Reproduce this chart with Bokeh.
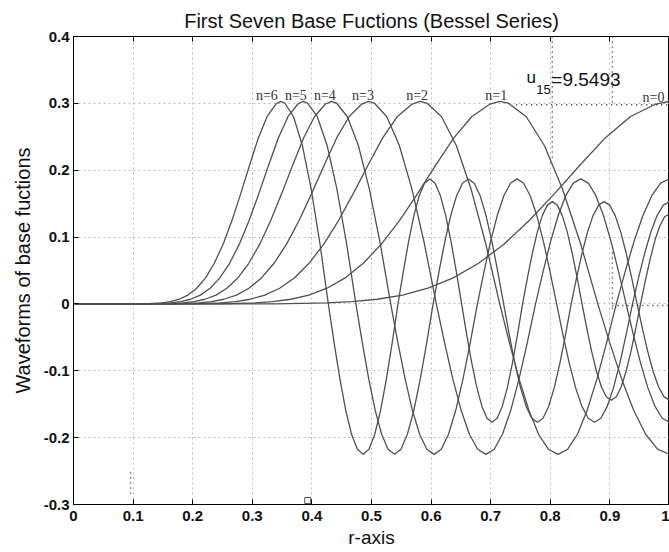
from bokeh.plotting import figure
from bokeh.models import Range1d, FixedTicker, LinearAxis
from bokeh.core.properties import value
from bokeh.embed import file_html
from bokeh.resources import INLINE

# ---- tick values / labels ----
x_ticks = [0, 0.1, 0.2, 0.3, 0.4, 0.5, 0.6, 0.7, 0.8, 0.9, 1]
x_tick_labels = ["0", "0.1", "0.2", "0.3", "0.4", "0.5", "0.6", "0.7", "0.8", "0.9", "1"]
y_ticks = [-0.3, -0.2, -0.1, 0, 0.1, 0.2, 0.3, 0.4]
y_tick_labels = ["-0.3", "-0.2", "-0.1", "0", "0.1", "0.2", "0.3", "0.4"]

# ---- curves (r, value) ----
r_n0 = [0.0, 0.33985, 0.42481, 0.46729, 0.50977, 0.55225, 0.59473, 0.63722, 0.67970,
        0.72218, 0.76466, 0.80714, 0.84962, 0.89210, 0.93458, 0.97706, 1.0]
y_n0 = [0.0, 0.0001, 0.0015, 0.0033, 0.0070, 0.0132, 0.0235, 0.0389, 0.0608,
        0.0894, 0.1247, 0.1650, 0.2075, 0.2483, 0.2804, 0.2990, 0.3029]

r_n1 = [0.0, 0.24310, 0.30387, 0.33426, 0.36464, 0.39503, 0.42542, 0.45581, 0.48619,
        0.51658, 0.54697, 0.57735, 0.60774, 0.63813, 0.66851, 0.69890, 0.71531, 0.72929,
        0.75968, 0.79006, 0.82045, 0.85084, 0.87973,
        0.89978, 0.91982, 0.93987, 0.95991, 0.97996, 1.0]
y_n1 = [0.0, 0.0001, 0.0015, 0.0033, 0.0070, 0.0132, 0.0235, 0.0389, 0.0608,
        0.0894, 0.1247, 0.1650, 0.2075, 0.2483, 0.2804, 0.2990, 0.3029, 0.3005,
        0.2800, 0.2370, 0.1720, 0.0900, 0.0,
        -0.0582, -0.1125, -0.1591, -0.1949, -0.2173, -0.225]

r_n2 = [0.0, 0.19763, 0.24703, 0.27173, 0.29644, 0.32114, 0.34584, 0.37055, 0.39525,
        0.41995, 0.44466, 0.46936, 0.49406, 0.51877, 0.54347, 0.56817, 0.58151, 0.59288,
        0.61758, 0.64228, 0.66699, 0.69169, 0.71518,
        0.73148, 0.74777, 0.76407, 0.78036, 0.79666, 0.81296, 0.82925, 0.84555,
        0.86184, 0.87814, 0.89444, 0.91073,
        0.92561, 0.94049, 0.95536, 0.97024, 0.98512, 1.0]
y_n2 = [0.0, 0.0001, 0.0015, 0.0033, 0.0070, 0.0132, 0.0235, 0.0389, 0.0608,
        0.0894, 0.1247, 0.1650, 0.2075, 0.2483, 0.2804, 0.2990, 0.3029, 0.3005,
        0.2800, 0.2370, 0.1720, 0.0900, 0.0,
        -0.0582, -0.1125, -0.1591, -0.1949, -0.2173, -0.225, -0.2173, -0.1949,
        -0.1591, -0.1125, -0.0582, 0.0,
        0.0484, 0.0935, 0.1322, 0.1619, 0.1806, 0.187]

r_n3 = [0.0, 0.16822, 0.21028, 0.23130, 0.25233, 0.27336, 0.29439, 0.31541, 0.33644,
        0.35747, 0.37850, 0.39952, 0.42055, 0.44158, 0.46261, 0.48363, 0.49499, 0.50466,
        0.52569, 0.54672, 0.56774, 0.58877, 0.60877,
        0.62264, 0.63651, 0.65038, 0.66425, 0.67813, 0.69200, 0.70587, 0.71974,
        0.73361, 0.74748, 0.76135, 0.77522,
        0.78788, 0.80055, 0.81321, 0.82588, 0.83854, 0.85120, 0.86387, 0.87653,
        0.88920, 0.90186, 0.91452, 0.92719,
        0.93932, 0.95146, 0.96359, 0.97573, 0.98786, 1.0]
y_n3 = [0.0, 0.0001, 0.0015, 0.0033, 0.0070, 0.0132, 0.0235, 0.0389, 0.0608,
        0.0894, 0.1247, 0.1650, 0.2075, 0.2483, 0.2804, 0.2990, 0.3029, 0.3005,
        0.2800, 0.2370, 0.1720, 0.0900, 0.0,
        -0.0582, -0.1125, -0.1591, -0.1949, -0.2173, -0.225, -0.2173, -0.1949,
        -0.1591, -0.1125, -0.0582, 0.0,
        0.0484, 0.0935, 0.1322, 0.1619, 0.1806, 0.187, 0.1806, 0.1619,
        0.1322, 0.0935, 0.0484, 0.0,
        -0.0458, -0.0885, -0.1252, -0.1533, -0.1710, -0.177]

r_n4 = [0.0, 0.14707, 0.18383, 0.20222, 0.22060, 0.23898, 0.25737, 0.27575, 0.29413,
        0.31252, 0.33090, 0.34928, 0.36767, 0.38605, 0.40443, 0.42282, 0.43274, 0.44120,
        0.45958, 0.47797, 0.49635, 0.51473, 0.53222,
        0.54435, 0.55647, 0.56860, 0.58073, 0.59286, 0.60498, 0.61711, 0.62924,
        0.64136, 0.65349, 0.66562, 0.67774,
        0.68881, 0.69988, 0.71095, 0.72202, 0.73310, 0.74417, 0.75524, 0.76631,
        0.77738, 0.78845, 0.79952, 0.81059,
        0.82120, 0.83181, 0.84242, 0.85303, 0.86364, 0.87424, 0.88485, 0.89546,
        0.90607, 0.91668, 0.92729, 0.93790,
        0.94825, 0.95860, 0.96895, 0.97930, 0.98965, 1.0]
y_n4 = [0.0, 0.0001, 0.0015, 0.0033, 0.0070, 0.0132, 0.0235, 0.0389, 0.0608,
        0.0894, 0.1247, 0.1650, 0.2075, 0.2483, 0.2804, 0.2990, 0.3029, 0.3005,
        0.2800, 0.2370, 0.1720, 0.0900, 0.0,
        -0.0582, -0.1125, -0.1591, -0.1949, -0.2173, -0.225, -0.2173, -0.1949,
        -0.1591, -0.1125, -0.0582, 0.0,
        0.0484, 0.0935, 0.1322, 0.1619, 0.1806, 0.187, 0.1806, 0.1619,
        0.1322, 0.0935, 0.0484, 0.0,
        -0.0458, -0.0885, -0.1252, -0.1533, -0.1710, -0.177, -0.1710, -0.1533,
        -0.1252, -0.0885, -0.0458, 0.0,
        0.0396, 0.0765, 0.1082, 0.1325, 0.1478, 0.153]

r_n5 = [0.0, 0.13093, 0.16367, 0.18003, 0.19640, 0.21277, 0.22914, 0.24550, 0.26187,
        0.27824, 0.29460, 0.31097, 0.32734, 0.34370, 0.36007, 0.37644, 0.38528, 0.39280,
        0.40917, 0.42554, 0.44190, 0.45827, 0.47384,
        0.48463, 0.49543, 0.50623, 0.51703, 0.52782, 0.53862, 0.54942, 0.56021,
        0.57101, 0.58181, 0.59261, 0.60340,
        0.61326, 0.62311, 0.63297, 0.64283, 0.65269, 0.66254, 0.67240, 0.68226,
        0.69211, 0.70197, 0.71183, 0.72168,
        0.73112, 0.74057, 0.75001, 0.75946, 0.76890, 0.77835, 0.78779, 0.79724,
        0.80668, 0.81613, 0.82557, 0.83502,
        0.84423, 0.85345, 0.86266, 0.87188, 0.88109, 0.89030, 0.89952, 0.90873,
        0.91795, 0.92716, 0.93638, 0.94559,
        0.95466, 0.96373, 0.97280, 0.98187, 0.99094, 1.0]
y_n5 = [0.0, 0.0001, 0.0015, 0.0033, 0.0070, 0.0132, 0.0235, 0.0389, 0.0608,
        0.0894, 0.1247, 0.1650, 0.2075, 0.2483, 0.2804, 0.2990, 0.3029, 0.3005,
        0.2800, 0.2370, 0.1720, 0.0900, 0.0,
        -0.0582, -0.1125, -0.1591, -0.1949, -0.2173, -0.225, -0.2173, -0.1949,
        -0.1591, -0.1125, -0.0582, 0.0,
        0.0484, 0.0935, 0.1322, 0.1619, 0.1806, 0.187, 0.1806, 0.1619,
        0.1322, 0.0935, 0.0484, 0.0,
        -0.0458, -0.0885, -0.1252, -0.1533, -0.1710, -0.177, -0.1710, -0.1533,
        -0.1252, -0.0885, -0.0458, 0.0,
        0.0396, 0.0765, 0.1082, 0.1325, 0.1478, 0.153, 0.1478, 0.1325,
        0.1082, 0.0765, 0.0396, 0.0,
        -0.0373, -0.0720, -0.1018, -0.1247, -0.1391, -0.144]

r_n6 = [0.0, 0.11815, 0.14768, 0.16245, 0.17722, 0.19199, 0.20676, 0.22153, 0.23630,
        0.25106, 0.26583, 0.28060, 0.29537, 0.31014, 0.32491, 0.33967, 0.34765, 0.35444,
        0.36921, 0.38398, 0.39875, 0.41352, 0.42756,
        0.43730, 0.44705, 0.45679, 0.46653, 0.47627, 0.48601, 0.49576, 0.50550,
        0.51524, 0.52498, 0.53472, 0.54447,
        0.55336, 0.56226, 0.57115, 0.58005, 0.58894, 0.59784, 0.60673, 0.61562,
        0.62452, 0.63341, 0.64231, 0.65120,
        0.65972, 0.66825, 0.67677, 0.68529, 0.69382, 0.70234, 0.71086, 0.71938,
        0.72791, 0.73643, 0.74495, 0.75348,
        0.76178, 0.77010, 0.77841, 0.78673, 0.79504, 0.80336, 0.81167, 0.81998,
        0.82830, 0.83661, 0.84493, 0.85324,
        0.86143, 0.86961, 0.87780, 0.88598, 0.89416, 0.90235, 0.91053, 0.91871,
        0.92690, 0.93508, 0.94326, 0.95145,
        0.95953, 0.96763, 0.97572, 0.98381, 0.99191, 1.0]
y_n6 = [0.0, 0.0001, 0.0015, 0.0033, 0.0070, 0.0132, 0.0235, 0.0389, 0.0608,
        0.0894, 0.1247, 0.1650, 0.2075, 0.2483, 0.2804, 0.2990, 0.3029, 0.3005,
        0.2800, 0.2370, 0.1720, 0.0900, 0.0,
        -0.0582, -0.1125, -0.1591, -0.1949, -0.2173, -0.225, -0.2173, -0.1949,
        -0.1591, -0.1125, -0.0582, 0.0,
        0.0484, 0.0935, 0.1322, 0.1619, 0.1806, 0.187, 0.1806, 0.1619,
        0.1322, 0.0935, 0.0484, 0.0,
        -0.0458, -0.0885, -0.1252, -0.1533, -0.1710, -0.177, -0.1710, -0.1533,
        -0.1252, -0.0885, -0.0458, 0.0,
        0.0396, 0.0765, 0.1082, 0.1325, 0.1478, 0.153, 0.1478, 0.1325,
        0.1082, 0.0765, 0.0396, 0.0,
        -0.0373, -0.0720, -0.1018, -0.1247, -0.1391, -0.144, -0.1391, -0.1247,
        -0.1018, -0.0720, -0.0373, 0.0,
        0.0349, 0.0675, 0.0955, 0.1169, 0.1304, 0.135]

# ---- curve labels ----
label_text = ["n=6", "n=5", "n=4", "n=3", "n=2", "n=1", "n=0"]
label_x = [0.3244, 0.3731, 0.4218, 0.4857, 0.5765, 0.7092, 0.9731]
label_y = [0.3118, 0.3118, 0.3118, 0.3118, 0.3118, 0.3118, 0.3088]

# ---- annotation marks (dotted guide segments seen on the scan) ----
ann_x0 = [0.8034, 0.9042, 0.7429, 0.9042, 0.9042, 0.0958]
ann_y0 = [0.4, 0.4, 0.298, 0.077, -0.0023, -0.252]
ann_x1 = [0.8034, 0.9042, 1.0, 0.9042, 1.0, 0.0958]
ann_y1 = [0.2145, 0.30, 0.298, -0.013, -0.0023, -0.2835]
box_x = [0.393]
box_y = [-0.294]

curves = [(r_n0, y_n0), (r_n1, y_n1), (r_n2, y_n2), (r_n3, y_n3),
          (r_n4, y_n4), (r_n5, y_n5), (r_n6, y_n6)]

p = figure(width=669, height=552, x_range=Range1d(0, 1), y_range=Range1d(-0.3, 0.4),
           output_backend="svg", toolbar_location=None,
           title="First Seven Base Fuctions (Bessel Series)",
           min_border_left=73, min_border_right=0, min_border_top=36, min_border_bottom=48)
p.background_fill_color = "white"
p.border_fill_color = "white"
p.outline_line_color = "black"
p.outline_line_width = 1

p.title.align = "center"
p.title.text_font = "Liberation Sans"
p.title.text_font_size = "20px"
p.title.text_font_style = "normal"
p.title.text_color = "#111111"
p.title.standoff = 9

bottom_axis = p.below[0]
left_axis = p.left[0]

for ax, ticks, labels in ((bottom_axis, x_ticks, x_tick_labels), (left_axis, y_ticks, y_tick_labels)):
    ax.ticker = FixedTicker(ticks=ticks)
    ax.major_label_overrides = dict(zip(ticks, labels))
    ax.major_tick_in = 5
    ax.major_tick_out = 0
    ax.minor_tick_line_color = None
    ax.axis_line_color = "black"
    ax.major_tick_line_color = "black"
    ax.major_label_text_font = "Liberation Sans"
    ax.major_label_text_font_size = "15px"
    ax.major_label_text_font_style = "bold"
    ax.major_label_text_color = "#111111"
    ax.axis_label_text_font = "Liberation Sans"
    ax.axis_label_text_font_style = "normal"
    ax.axis_label_text_color = "#111111"
bottom_axis.major_label_standoff = 6
left_axis.major_label_standoff = 4
bottom_axis.axis_label = "r-axis"
bottom_axis.axis_label_text_font_size = "19px"
bottom_axis.axis_label_standoff = 3
left_axis.axis_label = "Waveforms of base fuctions"
left_axis.axis_label_text_font_size = "20px"
left_axis.axis_label_standoff = 7

# top axis: tick marks only (box-style ticks)
top_axis = LinearAxis(ticker=FixedTicker(ticks=x_ticks), major_tick_in=5, major_tick_out=0,
                      minor_tick_line_color=None, axis_line_color="black",
                      major_tick_line_color="black",
                      major_label_text_font_size="0px", major_label_standoff=0,
                      major_label_overrides={t: "" for t in x_ticks})
p.add_layout(top_axis, "above")

p.xgrid.ticker = FixedTicker(ticks=x_ticks)
p.ygrid.ticker = FixedTicker(ticks=y_ticks)
for g in (p.xgrid[0], p.ygrid[0]):
    g.grid_line_color = "#bdbdbd"
    g.grid_line_dash = "2 3"
    g.grid_line_width = 1

for rr, yy in curves:
    p.line(rr, yy, line_color="#505050", line_width=1.3)

p.segment(x0=ann_x0, y0=ann_y0, x1=ann_x1, y1=ann_y1, line_color="#222222",
          line_width=1.4, line_dash="1 4")
p.scatter(box_x, box_y, marker="square", size=6, fill_color=None, line_color="#555555")

p.text(x=label_x, y=label_y, text=label_text, text_font=value("Liberation Serif"),
       text_font_size="14px", text_align="center", text_baseline="alphabetic",
       text_color="#333333")

p.text(x=[0.760], y=[0.3387], text=["u"], text_font=value("Liberation Sans"),
       text_font_size="17px", text_align="left", text_baseline="alphabetic", text_color="#111111")
p.text(x=[0.7765], y=[0.3207], text=["15"], text_font=value("Liberation Sans"),
       text_font_size="13px", text_align="left", text_baseline="alphabetic", text_color="#111111")
p.text(x=[0.8017], y=[0.3357], text=["=9.5493"], text_font=value("Liberation Sans"),
       text_font_size="19px", text_align="left", text_baseline="alphabetic", text_color="#111111")

open("out.html", "w").write(file_html(p, INLINE))
